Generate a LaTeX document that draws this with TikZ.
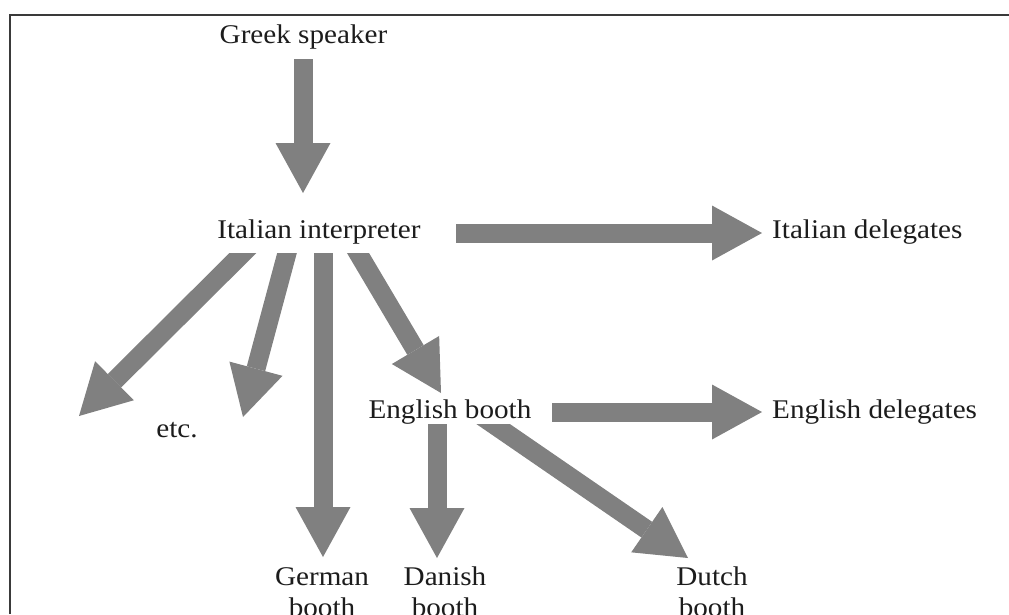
\documentclass[tikz,border=0pt]{standalone}
\usepackage{fontspec}
\setmainfont{Liberation Serif}[FakeStretch=1.08]
\usetikzlibrary{arrows.meta}
\definecolor{arrowgray}{HTML}{808080}
\definecolor{ink}{HTML}{1C1C1C}
\definecolor{framegray}{HTML}{3A3A3A}
\begin{document}
\begin{tikzpicture}[x=1pt,y=-1pt,
  lbl/.style={inner sep=0pt, text=ink, font=\fontsize{27}{31}\selectfont},
  fat/.style={draw=arrowgray, line width=19pt, -{Triangle[length=50pt,width=55pt,line width=0pt]}}]
\useasboundingbox (0,0) rectangle (1009,614);
\draw[framegray, line width=2pt] (10,614) -- (10,15) -- (1009,15);

% labels
\node[lbl, anchor=base] (gs) at (303.5,43) {Greek speaker};
\node[lbl, anchor=base] (ii) at (319,238) {Italian interpreter};
\node[lbl, anchor=base west] (id) at (772,238) {Italian delegates};
\node[lbl, anchor=base] (eb) at (450,418) {English booth};
\node[lbl, anchor=base west] (ed) at (772,418) {English delegates};
\node[lbl, anchor=base] (etc) at (177,437) {etc.};
\node[lbl, anchor=base] (gb) at (322,585) {\begin{tabular}[t]{@{}c@{}}German\\booth\end{tabular}};
\node[lbl, anchor=base] (db) at (445,585) {\begin{tabular}[t]{@{}c@{}}Danish\\booth\end{tabular}};
\node[lbl, anchor=base] (nb) at (712,585) {\begin{tabular}[t]{@{}c@{}}Dutch\\booth\end{tabular}};

% connector end points
\coordinate (gs-out) at (303,59);
\coordinate (ii-in) at (303,193);
\coordinate (ii-out-r) at (456,233);
\coordinate (id-in) at (762,233);
\coordinate (eb-out-r) at (552,412);
\coordinate (ed-in) at (762,412);
\coordinate (ii-o1) at (256,240);
\coordinate (etc-a) at (79,416);
\coordinate (ii-o2) at (290.5,240);
\coordinate (etc-b) at (243,417);
\coordinate (ii-o3) at (323,240);
\coordinate (gb-in) at (323,557);
\coordinate (ii-o4) at (350.3,240);
\coordinate (eb-in) at (441,393);
\coordinate (eb-o1) at (437,415);
\coordinate (db-in) at (437,558);
\coordinate (eb-o2) at (480,415);
\coordinate (nb-in) at (688,558);

% connectors
\draw[fat] (gs-out) -- (ii-in);
\draw[fat] (ii-out-r) -- (id-in);
\draw[fat] (eb-out-r) -- (ed-in);
\begin{scope}
  \clip (0,253) rectangle (1009,614);
  \draw[fat] (ii-o1) -- (etc-a);
  \draw[fat] (ii-o2) -- (etc-b);
  \draw[fat] (ii-o3) -- (gb-in);
  \draw[fat] (ii-o4) -- (eb-in);
\end{scope}
\begin{scope}
  \clip (0,424) rectangle (1009,614);
  \draw[fat] (eb-o1) -- (db-in);
  \draw[fat] (eb-o2) -- (nb-in);
\end{scope}
\end{tikzpicture}
\end{document}
